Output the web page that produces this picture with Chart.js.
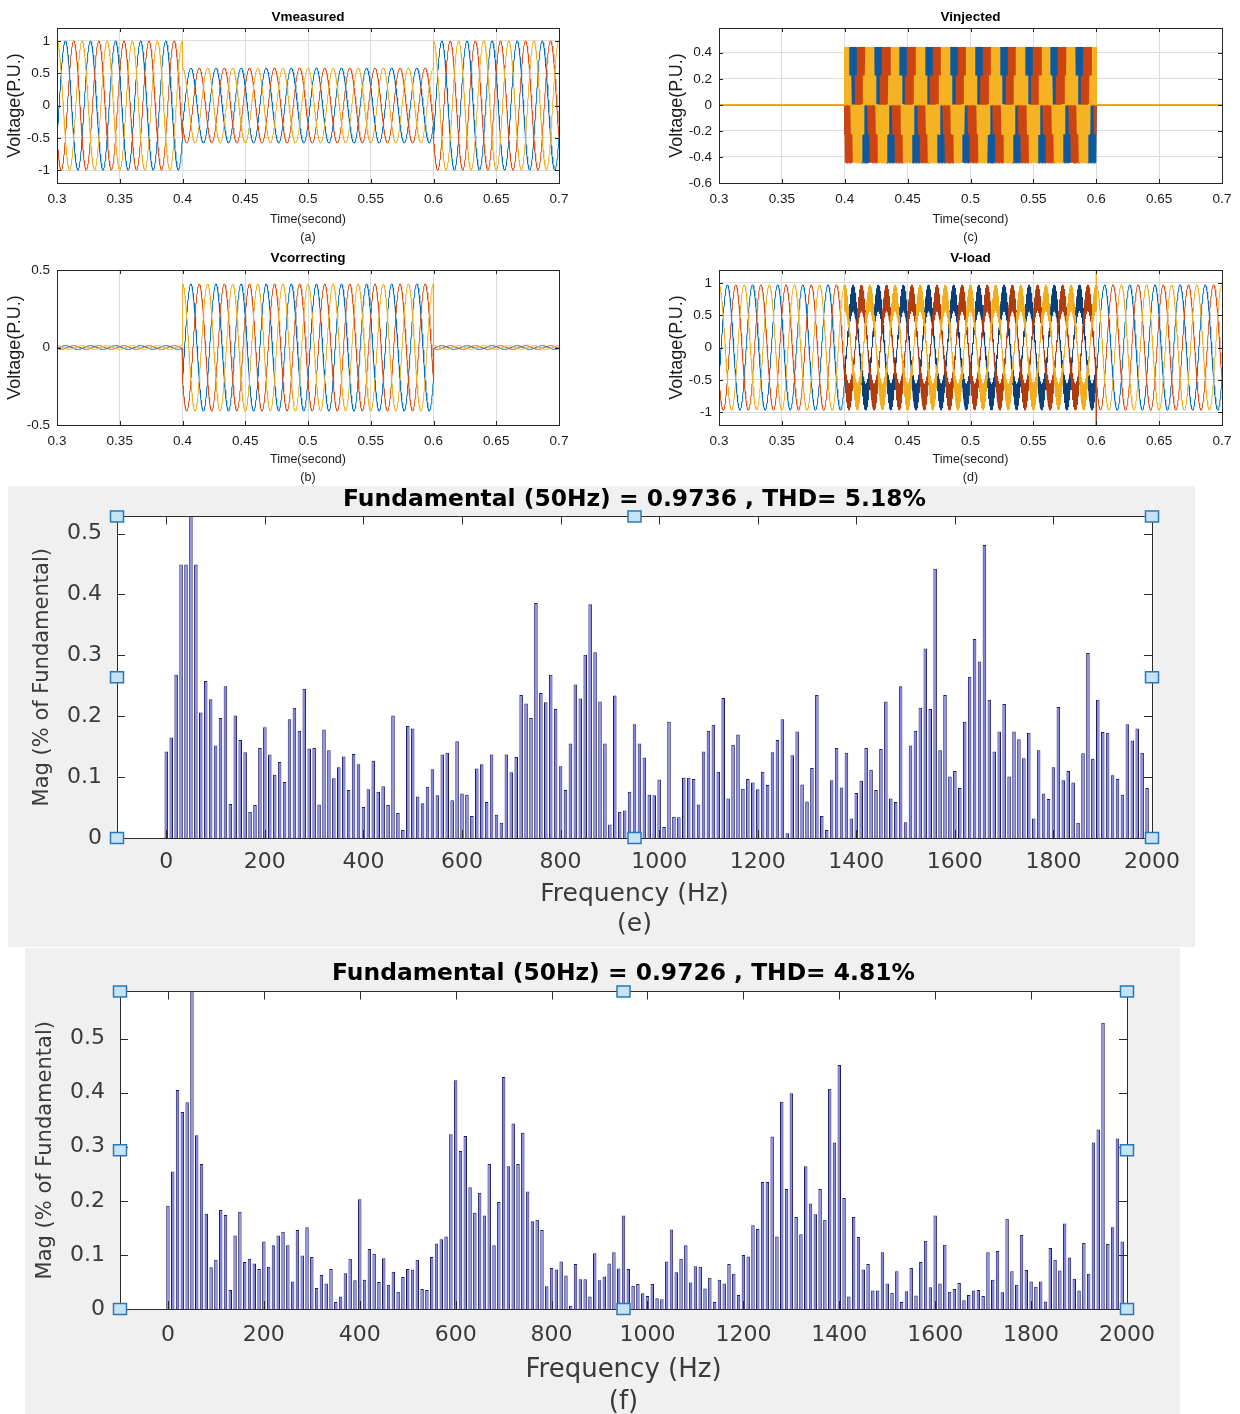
<!DOCTYPE html>
<html>
<head>
<meta charset="utf-8">
<script src="https://cdn.jsdelivr.net/npm/chart.js@4.4.1/dist/chart.umd.min.js"></script>
<style>
  html, body { margin: 0; padding: 0; background: #fff; overflow: hidden; }
  body { width: 1240px; height: 1414px; position: relative; }
  canvas { position: absolute; }
  #cE, #cF { background: #f0f0f0; }
</style>
</head>
<body>
<canvas id="cA" width="580" height="245" style="left:0;top:0"></canvas>
<canvas id="cC" width="580" height="245" style="left:660px;top:0"></canvas>
<canvas id="cB" width="580" height="240" style="left:0;top:245px"></canvas>
<canvas id="cD" width="580" height="240" style="left:660px;top:245px"></canvas>
<canvas id="cE" width="1187" height="461" style="left:8px;top:486px"></canvas>
<canvas id="cF" width="1155" height="466" style="left:25px;top:948px"></canvas>
<script>
// ---- time-domain panels (a)-(d) ----
const timeTicks = [0.3, 0.35, 0.4, 0.45, 0.5, 0.55, 0.6, 0.65, 0.7];
const voltTicksA = [-1, -0.5, 0, 0.5, 1];
const voltTicksB = [-0.5, 0, 0.5];
const voltTicksC = [-0.6, -0.4, -0.2, 0, 0.2, 0.4];
const voltTicksD = [-1, -0.5, 0, 0.5, 1];

const segEdges = [0.3, 0.4, 0.6, 0.7];      // before sag / sag / after sag
const mainsHz = 50;
const phaseNames = ["Va", "Vb", "Vc"];
const phaseShiftDeg = [-120, 120, 0];
const phaseColors = ["#0072BD", "#D95319", "#EDB120"];
const switchColorsC = ["#0f5a9e", "#cc4411", "#f5b324"];
const switchColorsD = ["#0b3f7a", "#b03c0e", "#f0ae1c"];

const measuredPeak = [1, 0.58, 1];
const correctingPeak = [0.012, 0.41, 0.012];
const injectedLevels = [-0.445, -0.225, 0, 0.225, 0.445];
const injectedRefPeak = [0, 0.42, 0];
const loadPeak = [0.97, 0.97, 0.97];
const loadSwitchBand = [0.57, 0.97];     // low / high envelope while switching
const loadSpike = [null, -1.25, 1.25];   // transient at the end of the sag

// ---- harmonic spectra (e) and (f), 10 Hz bins from 0 to 2000 Hz ----
const freqStep = 10;
const freqTicks = [0, 200, 400, 600, 800, 1000, 1200, 1400, 1600, 1800, 2000];
const magTicks = [0, 0.1, 0.2, 0.3, 0.4, 0.5];

const magE = [
  0.142, 0.165, 0.268, 0.449, 0.449, 100, 0.449, 0.206, 0.258, 0.228,
  0.152, 0.197, 0.249, 0.056, 0.201, 0.161, 0.141, 0.043, 0.054, 0.148,
  0.182, 0.137, 0.104, 0.125, 0.092, 0.195, 0.214, 0.176, 0.245, 0.147,
  0.148, 0.055, 0.178, 0.144, 0.098, 0.116, 0.134, 0.079, 0.138, 0.121,
  0.051, 0.080, 0.127, 0.076, 0.085, 0.054, 0.201, 0.041, 0.013, 0.184,
  0.180, 0.068, 0.057, 0.084, 0.113, 0.070, 0.137, 0.140, 0.062, 0.159,
  0.073, 0.071, 0.036, 0.114, 0.121, 0.059, 0.137, 0.038, 0.025, 0.137,
  0.108, 0.133, 0.235, 0.221, 0.197, 0.386, 0.238, 0.223, 0.268, 0.212,
  0.118, 0.079, 0.155, 0.252, 0.229, 0.301, 0.384, 0.305, 0.224, 0.155,
  0.022, 0.234, 0.043, 0.045, 0.076, 0.187, 0.155, 0.132, 0.071, 0.070,
  0.096, 0.018, 0.191, 0.035, 0.034, 0.099, 0.099, 0.097, 0.055, 0.142,
  0.176, 0.186, 0.109, 0.230, 0.065, 0.153, 0.170, 0.081, 0.097, 0.091,
  0.080, 0.109, 0.087, 0.141, 0.161, 0.195, 0.008, 0.136, 0.175, 0.088,
  0.060, 0.115, 0.235, 0.036, 0.013, 0.095, 0.148, 0.083, 0.140, 0.032,
  0.074, 0.094, 0.148, 0.112, 0.079, 0.146, 0.224, 0.065, 0.059, 0.249,
  0.026, 0.152, 0.176, 0.214, 0.311, 0.212, 0.442, 0.144, 0.235, 0.101,
  0.110, 0.082, 0.191, 0.265, 0.327, 0.290, 0.481, 0.227, 0.142, 0.175,
  0.220, 0.101, 0.175, 0.162, 0.131, 0.173, 0.032, 0.144, 0.073, 0.064,
  0.116, 0.215, 0.095, 0.110, 0.091, 0.025, 0.139, 0.304, 0.130, 0.227,
  0.174, 0.173, 0.103, 0.097, 0.071, 0.187, 0.160, 0.180, 0.140, 0.082,
  0
];

const magF = [
  0.191, 0.254, 0.405, 0.364, 0.382, 100, 0.321, 0.268, 0.176, 0.077,
  0.091, 0.183, 0.174, 0.035, 0.136, 0.180, 0.087, 0.093, 0.084, 0.074,
  0.125, 0.078, 0.118, 0.136, 0.143, 0.118, 0.051, 0.146, 0.099, 0.151,
  0.096, 0.039, 0.063, 0.047, 0.074, 0.013, 0.023, 0.066, 0.093, 0.053,
  0.203, 0.054, 0.111, 0.102, 0.050, 0.094, 0.045, 0.069, 0.032, 0.059,
  0.074, 0.073, 0.091, 0.037, 0.035, 0.096, 0.121, 0.129, 0.134, 0.323,
  0.423, 0.292, 0.320, 0.225, 0.178, 0.215, 0.173, 0.268, 0.118, 0.198,
  0.429, 0.264, 0.343, 0.268, 0.326, 0.217, 0.162, 0.165, 0.146, 0.042,
  0.076, 0.073, 0.088, 0.062, 0.006, 0.083, 0.055, 0.055, 0.023, 0.103,
  0.053, 0.060, 0.084, 0.105, 0.075, 0.173, 0.074, 0.043, 0.046, 0.029,
  0.024, 0.046, 0.020, 0.018, 0.088, 0.147, 0.068, 0.093, 0.118, 0.049,
  0.079, 0.078, 0.038, 0.058, 0.013, 0.054, 0.047, 0.083, 0.065, 0.026,
  0.100, 0.097, 0.155, 0.148, 0.235, 0.235, 0.319, 0.134, 0.383, 0.222,
  0.399, 0.170, 0.138, 0.264, 0.195, 0.175, 0.222, 0.165, 0.407, 0.308,
  0.451, 0.205, 0.023, 0.170, 0.133, 0.073, 0.083, 0.034, 0.034, 0.105,
  0.047, 0.030, 0.070, 0.013, 0.033, 0.076, 0.025, 0.087, 0.126, 0.040,
  0.173, 0.047, 0.119, 0.032, 0.037, 0.048, 0.016, 0.026, 0.034, 0.035,
  0.024, 0.105, 0.054, 0.107, 0.031, 0.167, 0.070, 0.045, 0.137, 0.072,
  0.051, 0.041, 0.051, 0.014, 0.113, 0.091, 0.071, 0.158, 0.095, 0.056,
  0.034, 0.122, 0.065, 0.308, 0.332, 0.529, 0.120, 0.151, 0.315, 0.125,
  0
];

Chart.defaults.font.family = "'Liberation Sans', Arial, sans-serif";

// box, inward tick marks and the selection handles of the spectrum axes
const framePlugin = {
  id: "frame",
  beforeDraw(chart, args, o) {
    if (!o.plotBg) return;
    const { ctx, chartArea: a } = chart;
    ctx.save();
    ctx.fillStyle = o.plotBg;
    ctx.fillRect(a.left, a.top, a.right - a.left, a.bottom - a.top);
    ctx.restore();
  },
  afterDraw(chart, args, o) {
    const { ctx, chartArea: a, scales } = chart;
    const len = o.tickLen || 0;
    ctx.save();
    ctx.strokeStyle = o.color || "#262626";
    ctx.lineWidth = 1;
    ctx.beginPath();
    scales.x.ticks.forEach((t) => {
      const px = Math.round(scales.x.getPixelForValue(t.value)) + 0.5;
      ctx.moveTo(px, a.top); ctx.lineTo(px, a.top + len);
      ctx.moveTo(px, a.bottom); ctx.lineTo(px, a.bottom - len);
    });
    scales.y.ticks.forEach((t) => {
      const py = Math.round(scales.y.getPixelForValue(t.value)) + 0.5;
      ctx.moveTo(a.left, py); ctx.lineTo(a.left + len, py);
      ctx.moveTo(a.right, py); ctx.lineTo(a.right - len, py);
    });
    ctx.stroke();
    ctx.strokeRect(Math.round(a.left) + 0.5, Math.round(a.top) + 0.5,
      Math.round(a.right - a.left), Math.round(a.bottom - a.top));
    if (o.handles) {
      const xs = [a.left, (a.left + a.right) / 2, a.right];
      const ys = [a.top, (a.top + a.bottom) / 2, a.bottom];
      ctx.fillStyle = "#c6e2f6";
      ctx.strokeStyle = "#2a78b5";
      ctx.lineWidth = 1.5;
      xs.forEach((x, i) => ys.forEach((y, j) => {
        if (i === 1 && j === 1) return;
        ctx.fillRect(x - 6.5, y - 5.5, 13, 11);
        ctx.strokeRect(x - 6.5, y - 5.5, 13, 11);
      }));
    }
    ctx.restore();
  },
};
Chart.register(framePlugin);

const unit = (t, k) => Math.cos(2 * Math.PI * mainsHz * t + phaseShiftDeg[k] * Math.PI / 180);
const sineStep = 0.0002;
const switchStep = 0.0001;

const sineSeries = (peaks) => (k) => {
  const pts = [];
  for (let s = 0; s < 3; s++) {
    const t0 = segEdges[s], t1 = segEdges[s + 1];
    const n = Math.round((t1 - t0) / sineStep);
    for (let i = 0; i <= n; i++) {
      const t = t0 + (t1 - t0) * i / n;
      pts.push({ x: t, y: peaks[s] * unit(t, k) });
    }
  }
  return pts;
};

// multilevel inverter output: switches between the levels around the reference and zero
const injectedSeries = (k) => {
  const pts = [];
  for (let s = 0; s < 3; s++) {
    const t0 = segEdges[s], t1 = segEdges[s + 1];
    if (!injectedRefPeak[s]) {
      pts.push({ x: t0, y: 0 }, { x: t1, y: 0 });
      continue;
    }
    const n = Math.round((t1 - t0) / switchStep);
    for (let i = 0; i <= n; i++) {
      const t = t0 + (t1 - t0) * i / n;
      const ref = injectedRefPeak[s] * unit(t, k);
      let j = 0;
      while (j < injectedLevels.length - 2 && injectedLevels[j + 1] <= ref) j++;
      const states = [injectedLevels[j], injectedLevels[j + 1], 0];
      pts.push({ x: t, y: states[i % 3] });
    }
  }
  return pts;
};

const loadSeries = (k) => {
  const pts = [];
  for (let s = 0; s < 3; s++) {
    const t0 = segEdges[s], t1 = segEdges[s + 1];
    if (s === 2 && loadSpike[k] !== null) pts.push({ x: t0, y: loadSpike[k] });
    if (s !== 1) {
      const n = Math.round((t1 - t0) / sineStep);
      for (let i = 0; i <= n; i++) {
        const t = t0 + (t1 - t0) * i / n;
        pts.push({ x: t, y: loadPeak[s] * unit(t, k) });
      }
    } else {
      const n = Math.round((t1 - t0) / switchStep);
      for (let i = 0; i <= n; i++) {
        const t = t0 + (t1 - t0) * i / n;
        pts.push({ x: t, y: loadSwitchBand[i % 2] * unit(t, k) });
      }
    }
  }
  return pts;
};

const inSag = (ctx) => ctx.p0.parsed.x >= segEdges[1] && ctx.p1.parsed.x <= segEdges[2] && ctx.p0.parsed.x < ctx.p1.parsed.x + 1;

const phaseSets = (build, width, sagColors) => [0, 1, 2].map((k) => ({
  label: phaseNames[k],
  data: build(k),
  borderColor: phaseColors[k],
  borderWidth: width,
  pointRadius: 0,
  tension: 0,
  order: 2 - k,
  clip: 0,
  segment: sagColors ? { borderColor: (c) => (inSag(c) ? sagColors[k] : undefined) } : undefined,
}));

const setTicks = (values) => (scale) => {
  scale.ticks = values.map((v) => ({ value: v }));
};

const timePlot = (id, cfg) => new Chart(document.getElementById(id), {
  type: "line",
  data: { datasets: cfg.datasets },
  options: {
    responsive: false,
    animation: false,
    devicePixelRatio: 1,
    layout: { padding: { top: 0, right: cfg.padRight, bottom: 0, left: 0 } },
    plugins: {
      legend: { display: false },
      tooltip: { enabled: false },
      title: {
        display: true, text: cfg.title, fullSize: false, color: "#000",
        font: { size: 13.5, weight: "bold" },
        padding: { top: cfg.titleTop, bottom: cfg.titleBottom },
      },
      frame: { tickLen: 4, color: "#262626", plotBg: "#fff" },
    },
    scales: {
      x: {
        type: "linear", min: 0.3, max: 0.7,
        afterBuildTicks: setTicks(timeTicks),
        afterFit: (s) => { s.height = cfg.xHeight; },
        grid: { color: "#dcdcdc", drawTicks: false },
        border: { display: false },
        ticks: { padding: 8, color: "#1a1a1a", font: { size: 13.5 }, maxRotation: 0, autoSkip: false,
          callback: (v) => String(v) },
        title: { display: true, text: ["Time(second)", cfg.caption], color: "#1a1a1a",
          font: { size: 12.5, lineHeight: 1.44 }, padding: { top: 0, bottom: -2 } },
      },
      y: {
        min: cfg.yMin, max: cfg.yMax,
        afterBuildTicks: setTicks(cfg.yTicks),
        afterFit: (s) => { s.width = cfg.yWidth; },
        grid: { color: "#dcdcdc", drawTicks: false },
        border: { display: false },
        ticks: { padding: 7, color: "#1a1a1a", font: { size: 13.5 }, autoSkip: false,
          callback: (v) => String(v) },
        title: { display: true, text: "Voltage(P.U.)", color: "#1a1a1a",
          font: { size: 18 }, padding: { top: cfg.yTitlePad, bottom: 0 } },
      },
    },
  },
});

timePlot("cA", {
  title: "Vmeasured", caption: "(a)", yTicks: voltTicksA, yMin: -1.2, yMax: 1.2,
  datasets: phaseSets(sineSeries(measuredPeak), 1),
  padRight: 21, yWidth: 57, xHeight: 62, titleTop: 8.9, titleBottom: 2.9, yTitlePad: 4.2,
});
timePlot("cB", {
  title: "Vcorrecting", caption: "(b)", yTicks: voltTicksB, yMin: -0.5, yMax: 0.5,
  datasets: phaseSets(sineSeries(correctingPeak), 1),
  padRight: 21, yWidth: 57, xHeight: 60, titleTop: 4.9, titleBottom: 3.9, yTitlePad: 4.2,
});
timePlot("cC", {
  title: "Vinjected", caption: "(c)", yTicks: voltTicksC, yMin: -0.6, yMax: 0.59,
  datasets: phaseSets(injectedSeries, 1.5, switchColorsC),
  padRight: 18, yWidth: 59, xHeight: 62, titleTop: 8.9, titleBottom: 2.9, yTitlePad: 6.2,
});
timePlot("cD", {
  title: "V-load", caption: "(d)", yTicks: voltTicksD, yMin: -1.2, yMax: 1.2,
  datasets: phaseSets(loadSeries, 1, switchColorsD),
  padRight: 18, yWidth: 59, xHeight: 60, titleTop: 4.9, titleBottom: 3.9, yTitlePad: 6.2,
});

const specFont = "'DejaVu Sans', sans-serif";

const spectrumPlot = (id, cfg) => new Chart(document.getElementById(id), {
  type: "bar",
  data: {
    datasets: [{
      label: "Mag",
      data: cfg.mags.map((v, i) => ({ x: i * freqStep, y: v })),
      backgroundColor: "#8585ea",
      borderColor: "#1c1c62",
      borderWidth: { left: 1, right: 1, top: 1, bottom: 0 },
      borderSkipped: false,
      barPercentage: 0.72,
      categoryPercentage: 1,
      clip: 0,
    }],
  },
  options: {
    responsive: false,
    animation: false,
    devicePixelRatio: 1,
    layout: { padding: { top: 0, right: cfg.padRight, bottom: 0, left: 0 } },
    plugins: {
      legend: { display: false },
      tooltip: { enabled: false },
      title: {
        display: true, text: cfg.title, fullSize: false, color: "#000",
        font: { family: specFont, size: 23.4, weight: "bold" },
        padding: { top: cfg.titleTop, bottom: cfg.titleBottom },
      },
      frame: { tickLen: 8, color: "#2b2b2b", plotBg: "#fff", handles: true },
    },
    scales: {
      x: {
        type: "linear", min: -100, max: 2000, offset: false,
        afterBuildTicks: setTicks(freqTicks),
        afterFit: (s) => { s.height = cfg.xHeight; },
        grid: { display: false, drawTicks: false, offset: false },
        border: { display: false },
        ticks: { padding: cfg.xTickPad, color: "#3a3a3a", font: { family: specFont, size: 22 },
          maxRotation: 0, autoSkip: false, callback: (v) => String(v) },
        title: { display: true, text: ["Frequency (Hz)", cfg.caption], color: "#3a3a3a",
          font: { family: specFont, size: cfg.xTitleSize, lineHeight: cfg.xTitleLh },
          padding: { top: 0, bottom: cfg.xTitlePad } },
      },
      y: {
        min: 0, max: cfg.yMax,
        afterBuildTicks: setTicks(magTicks),
        afterFit: (s) => { s.width = cfg.yWidth; },
        grid: { display: false, drawTicks: false },
        border: { display: false },
        ticks: { padding: 15, color: "#3a3a3a", font: { family: specFont, size: 22 },
          autoSkip: false, callback: (v) => String(v) },
        title: { display: true, text: "Mag (% of Fundamental)", color: "#3a3a3a",
          font: { family: specFont, size: 21 }, padding: { top: cfg.yTitlePad, bottom: 0 } },
      },
    },
  },
});

spectrumPlot("cE", {
  title: "Fundamental (50Hz) = 0.9736 , THD= 5.18%", caption: "(e)", mags: magE, yMax: 0.528,
  padRight: 43, yWidth: 109, xHeight: 109, titleTop: 0, titleBottom: 2.4,
  xTickPad: 11, xTitleSize: 25, xTitleLh: 1.2, xTitlePad: 8, yTitlePad: 22.4,
});
spectrumPlot("cF", {
  title: "Fundamental (50Hz) = 0.9726 , THD= 4.81%", caption: "(f)", mags: magF, yMax: 0.587,
  padRight: 53, yWidth: 95, xHeight: 105, titleTop: 12.2, titleBottom: 3.2,
  xTickPad: 12.8, xTitleSize: 26, xTitleLh: 1.23, xTitlePad: -4, yTitlePad: 8.4,
});
</script>
</body>
</html>
